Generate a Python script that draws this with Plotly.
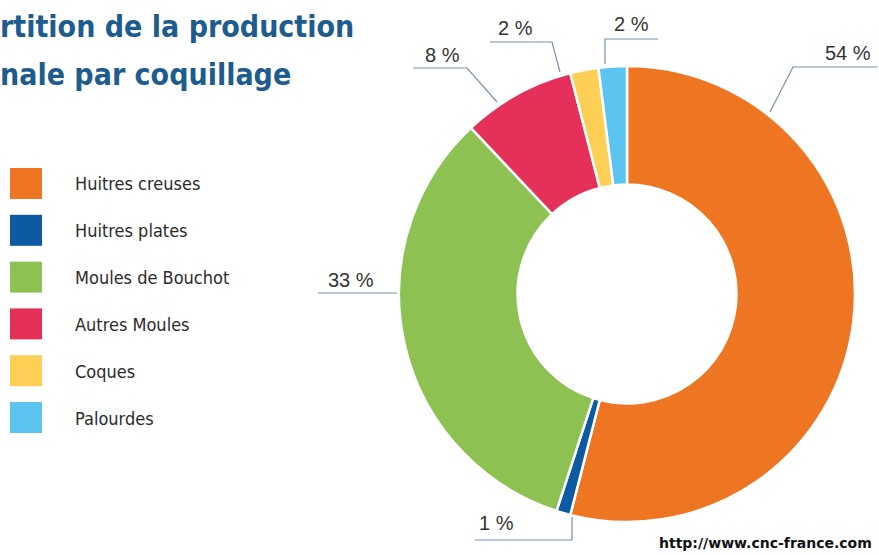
import plotly.graph_objects as go

# ---- data ----
categories = ["Huitres creuses", "Huitres plates", "Moules de Bouchot",
              "Autres Moules", "Coques", "Palourdes"]
shares = [54, 1, 33, 8, 2, 2]
colors = ["#EE7623", "#0B5AA2", "#8DC152", "#E5305A", "#FDCF55", "#5CC4F1"]
title_lines = ["rtition de la production", "nale par coquillage"]
source = "http://www.cnc-france.com"

W, H = 879, 555
COND = "DejaVu Sans Condensed, Roboto, sans-serif"

def px(x):
    return x / W

def py(y):
    return 1 - y / H

# pie geometry (pixels)
cx, cy, R = 627, 294, 228

fig = go.Figure()
fig.add_trace(go.Pie(
    labels=categories, values=shares, sort=False, direction="clockwise",
    rotation=0, hole=0.48,
    marker=dict(colors=colors, line=dict(color="white", width=2.5)),
    textinfo="none", hoverinfo="label+percent", showlegend=False,
    domain=dict(x=[px(cx - R), px(cx + R)], y=[py(cy + R), py(cy - R)]),
))

shapes = []
annotations = []

# title
for i, line in enumerate(title_lines):
    annotations.append(dict(
        x=px(-2), y=py(27 + i * 48), xref="paper", yref="paper",
        xanchor="left", yanchor="middle", showarrow=False, text="<b>%s</b>" % line,
        font=dict(family=COND, size=30, color="#1D5C8E")))

# legend
for i, (cat, col) in enumerate(zip(categories, colors)):
    top = 168 + i * 46.8
    shapes.append(dict(type="rect", xref="paper", yref="paper",
                       x0=px(10), x1=px(42), y0=py(top + 31), y1=py(top),
                       fillcolor=col, line=dict(width=0)))
    annotations.append(dict(
        x=px(73), y=py(top + 16), xref="paper", yref="paper",
        xanchor="left", yanchor="middle", showarrow=False, text=cat,
        font=dict(family=COND, size=18, color="#2b2b2b")))

# percentage labels with leader lines (label layout in pixels)
label_pos = [(848, 53), (496, 523), (351, 280), (442, 55), (515, 28), (631, 24)]
leader_paths = [
    [(877, 67), (793, 67), (770, 112)],
    [(475, 540), (572, 540), (572, 517)],
    [(318, 293), (397, 293)],
    [(413, 68), (467, 68), (497, 102)],
    [(490, 42), (552, 42), (560, 72)],
    [(658, 39), (605, 39), (605, 64)],
]
for v, (lx, ly), pts in zip(shares, label_pos, leader_paths):
    annotations.append(dict(
        x=px(lx), y=py(ly), xref="paper", yref="paper",
        xanchor="center", yanchor="middle", showarrow=False, text="%d %%" % v,
        font=dict(family="Liberation Sans", size=20, color="#333333")))
    path = "M " + " L ".join("%f,%f" % (px(x), py(y)) for x, y in pts)
    shapes.append(dict(type="path", xref="paper", yref="paper", path=path,
                       line=dict(color="#7a8fa8", width=1.2)))

annotations.append(dict(
    x=px(874), y=py(543), xref="paper", yref="paper",
    xanchor="right", yanchor="middle", showarrow=False, text="<b>%s</b>" % source,
    font=dict(family="DejaVu Sans", size=14, color="#111111")))

fig.update_layout(
    width=W, height=H, margin=dict(l=0, r=0, t=0, b=0),
    paper_bgcolor="white", plot_bgcolor="white",
    shapes=shapes, annotations=annotations,
)

fig.write_html("out.html", config={"displayModeBar": False},
               post_script="document.body.style.margin='0';document.body.style.overflow='hidden';")
